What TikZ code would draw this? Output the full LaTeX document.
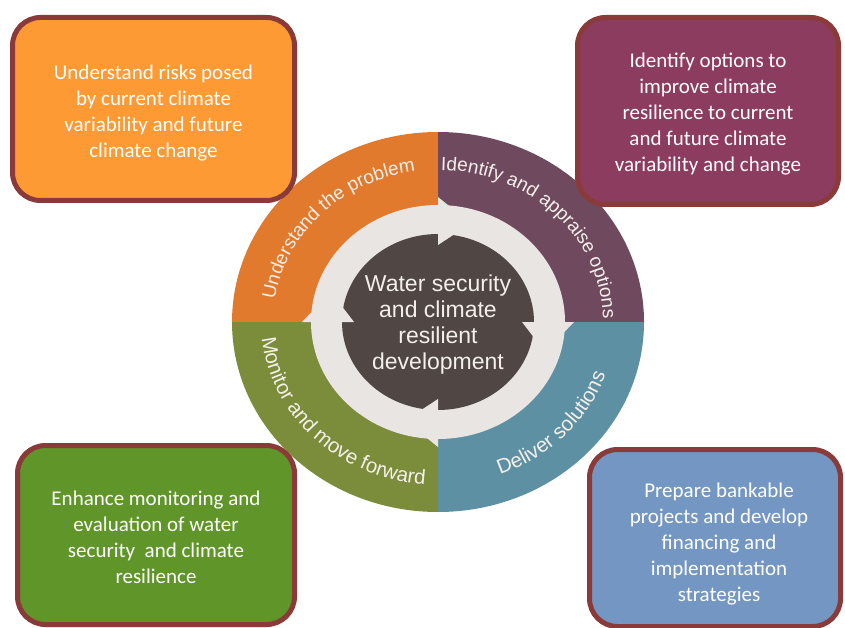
\documentclass[tikz,border=0pt]{standalone}
\usepackage{fontspec}
\setmainfont{Carlito}
\newfontfamily\ringfont{Liberation Sans}
\usetikzlibrary{decorations.text}

% box colours
\definecolor{boxedge}{HTML}{8B3A3A}
\definecolor{riskfill}{HTML}{FE9A34}
\definecolor{optfill}{HTML}{8C3C5E}
\definecolor{monfill}{HTML}{5F9529}
\definecolor{finfill}{HTML}{7397C2}
% cycle colours
\definecolor{segUL}{HTML}{E27A2E}
\definecolor{segUR}{HTML}{6F4A5E}
\definecolor{segLR}{HTML}{5E90A4}
\definecolor{segLL}{HTML}{7B8C3B}
\definecolor{ringgap}{HTML}{E9E5E2}
\definecolor{corefill}{HTML}{504744}
\definecolor{softwhite}{HTML}{F4EFEA}

\newcommand\ringtextup{\ringfont\fontsize{19}{20}\selectfont\color{softwhite}}
\newcommand\ringtextdown{\ringfont\fontsize{20.5}{21}\selectfont\color{softwhite}}

\tikzset{
  infobox/.style={draw=boxedge, line width=5pt, rounded corners=28pt, inner sep=0pt},
  boxtext/.style={text=white, align=center, font=\fontsize{21}{26}\selectfont},
  ringlabel/.style={decorate, decoration={text along path,
    text align=center, text={#1}}},
}

\begin{document}
\begin{tikzpicture}[x=1pt, y=-1pt]
\useasboundingbox (0,0) rectangle (845,628);
\fill[white] (0,0) rectangle (845,628);

\begin{scope}[shift={(438,322)}, x=1pt, y=1pt]
  % four coloured quadrants
  \fill[segUL] (0,0) -- (180:206 and 190) arc[start angle=180, end angle=90, x radius=206, y radius=190] -- cycle;
  \fill[segUR] (0,0) -- (90:206 and 190) arc[start angle=90, end angle=0, x radius=206, y radius=190] -- cycle;
  \fill[segLR] (0,0) -- (0:206 and 190) arc[start angle=360, end angle=270, x radius=206, y radius=190] -- cycle;
  \fill[segLL] (0,0) -- (270:206 and 190) arc[start angle=270, end angle=180, x radius=206, y radius=190] -- cycle;
  % circular arrow band and core
  \fill[ringgap] (0,0) ellipse[x radius=127, y radius=117];
  \fill[corefill] (0,0) ellipse[x radius=96, y radius=88];
  % arrow heads, clockwise
  \foreach \b in {90,0,270,180}
    \fill[ringgap] (\b:84 and 77) -- (\b:136 and 125) -- ({\b-17}:112 and 103) -- cycle;

  % curved stage labels
  \path[ringlabel={|\ringtextup|Understand the problem}]
    (180:165 and 152) arc[start angle=180, end angle=90, x radius=165, y radius=152];
  \path[ringlabel={|\ringtextup|Identify and appraise options}]
    (92:165 and 152) arc[start angle=92, end angle=-2, x radius=165, y radius=152];
  \path[ringlabel={|\ringtextdown|Monitor and move forward}]
    (180:177 and 163) arc[start angle=180, end angle=271, x radius=177, y radius=163];
  \path[ringlabel={|\ringtextdown|Deliver solutions}]
    (274:177 and 163) arc[start angle=274, end angle=359, x radius=177, y radius=163];
\end{scope}

\node[font=\ringfont\fontsize{23}{26}\selectfont, text=softwhite, align=center]
  (core) at (438,325) {Water security\\and climate\\resilient\\development};

% outcome boxes
\node[infobox, fill=riskfill, minimum width=282pt, minimum height=183pt] (risk) at (153.5,109) {};
\node[infobox, fill=optfill, minimum width=261pt, minimum height=187pt] (options) at (708,111) {};
\node[infobox, fill=monfill, minimum width=277pt, minimum height=179pt] (monitor) at (156,535) {};
\node[infobox, fill=finfill, minimum width=251pt, minimum height=177pt] (finance) at (715,538) {};

\node[boxtext] (riskText) at (153.5,113)
  {Understand risks posed\\by current climate\\variability and future\\climate change};
\node[boxtext] (optionsText) at (708,114)
  {Identify options to\\improve climate\\resilience to current\\and future climate\\variability and change};
\node[boxtext] (monitorText) at (156,537)
  {Enhance monitoring and\\evaluation of water\\security\ \ and climate\\resilience};
\node[boxtext] (financeText) at (719,544)
  {Prepare bankable\\projects and develop\\financing and\\implementation\\strategies};
\end{tikzpicture}
\end{document}
